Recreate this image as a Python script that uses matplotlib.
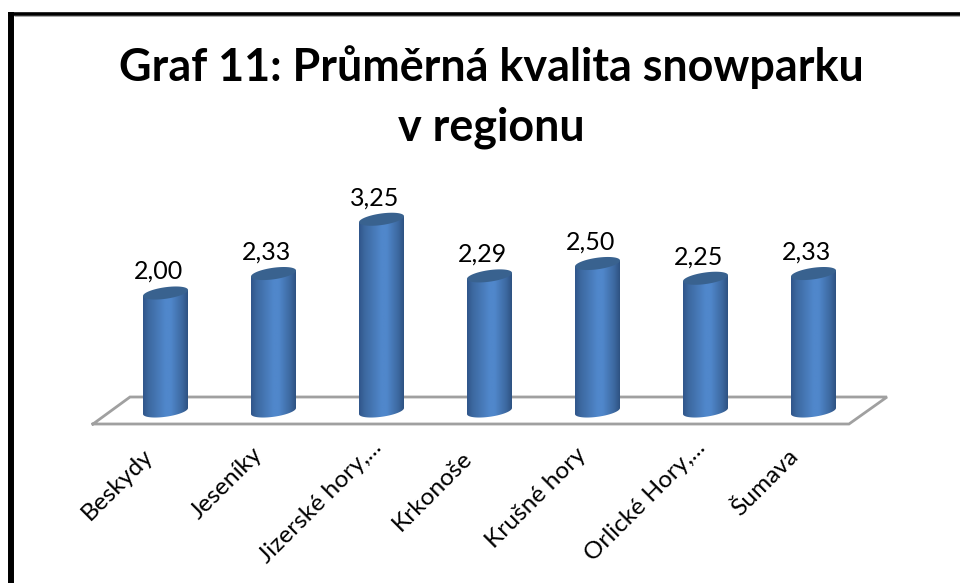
import numpy as np
import matplotlib
matplotlib.use("Agg")
import matplotlib.pyplot as plt
from matplotlib.colors import LinearSegmentedColormap
from matplotlib.patches import Polygon

regions = ["Beskydy", "Jeseníky", "Jizerské hory,...", "Krkonoše", "Krušné hory", "Orlické Hory,...", "Šumava"]
values = [2.00, 2.33, 3.25, 2.29, 2.50, 2.25, 2.33]
value_labels = ["2,00", "2,33", "3,25", "2,29", "2,50", "2,25", "2,33"]
title = "Graf 11: Průměrná kvalita snowparku\nv regionu"

W, H = 960, 583
PX_X = 108.0  # pixels per category
PX_Y = 59.0   # pixels per value unit
X0, Y0 = 165.5, 411.0  # pixel position of first category at value 0

# the source centres rotated labels its own way, so nudge each along its slant (pixels)
label_shift = [-4, -2, 9, -9, -3, 8, -6]

plt.rcParams['font.family'] = ['Lato', 'DejaVu Sans']

fig = plt.figure(figsize=(W / 100, H / 100), dpi=100, facecolor='white')

# axes spanning the whole picture, so the data scale maps straight to pixels
ax = fig.add_axes([0, 0, 1, 1])
ax.set_xlim(-X0 / PX_X, (W - X0) / PX_X)
ax.set_ylim((Y0 - H) / PX_Y, Y0 / PX_Y)
ax.axis('off')


def px_x(x):
    return (x - X0) / PX_X


def px_y(y):
    return (Y0 - y) / PX_Y


# frame, open at the bottom and right
ax.plot([px_x(11), px_x(11)], [px_y(H), px_y(12)], color='black', lw=4.3, solid_capstyle='butt', zorder=1)
ax.plot([px_x(8), px_x(W)], [px_y(14), px_y(14)], color='black', lw=2.6, solid_capstyle='butt', zorder=1)
ax.plot([px_x(14), px_x(W)], [px_y(15.8), px_y(15.8)], color='#a8a8a8', lw=0.7, solid_capstyle='butt', zorder=1)

# floor
floor_x = [px_x(93), px_x(130), px_x(887), px_x(849), px_x(93)]
floor_y = [px_y(424), px_y(397), px_y(397), px_y(424), px_y(424)]
ax.plot(floor_x, floor_y, color='#a0a0a0', lw=2.0, solid_joinstyle='miter', zorder=2)

cyl_cmap = LinearSegmentedColormap.from_list("cyl", [
    (0.0, '#30558a'), (0.12, '#3c689f'), (0.5, '#5087cb'), (0.62, '#5087cb'),
    (0.88, '#3c689f'), (1.0, '#2e5282')])
grad = np.linspace(0, 1, 128).reshape(1, -1)

half_w = 22.5 / PX_X
semi_b = 5.8 / PX_Y
tilt = 3.0 / PX_Y  # right side of the ellipse rises

t = np.linspace(0, 2 * np.pi, 100)
for i, val in enumerate(values):
    ell_x = i + half_w * np.cos(t)
    ell_dy = semi_b * np.sin(t) + tilt * np.cos(t)

    lower = np.sin(t) <= 0
    order = np.argsort(ell_x[lower])
    body_x = np.concatenate([ell_x[lower][order], [i + half_w, i - half_w]])
    body_y = np.concatenate([ell_dy[lower][order], [val + tilt, val - tilt]])

    body = Polygon(np.column_stack([body_x, body_y]), closed=True, transform=ax.transData,
                   facecolor='none', edgecolor='none')
    ax.add_patch(body)
    img = ax.imshow(grad, extent=[i - half_w, i + half_w, -0.2, val + 0.2], cmap=cyl_cmap,
                    aspect='auto', zorder=3, interpolation='bilinear')
    img.set_clip_path(body)

    ax.fill(ell_x, val + ell_dy, color='#39628f', zorder=4, lw=0)

    ax.text(i - 7 / PX_X, val + 0.17, value_labels[i], ha='center', va='bottom', fontsize=18, color='black', zorder=5)

    # category label, rotated and anchored near the floor
    shift = label_shift[i]
    ax.text(i - 0.18 + shift / PX_X, px_y(442 - 0.6 * shift), regions[i], rotation=45, rotation_mode='anchor',
            ha='right', va='top', fontsize=17.6, color='black', zorder=5)

ax.set_xlim(-X0 / PX_X, (W - X0) / PX_X)
ax.set_ylim((Y0 - H) / PX_Y, Y0 / PX_Y)

ax.text(px_x(491), px_y(97), title, ha='center', va='center', fontsize=32.3, fontweight='bold',
        color='black', linespacing=1.5)

fig.savefig("out.png", dpi=100, facecolor='white')
